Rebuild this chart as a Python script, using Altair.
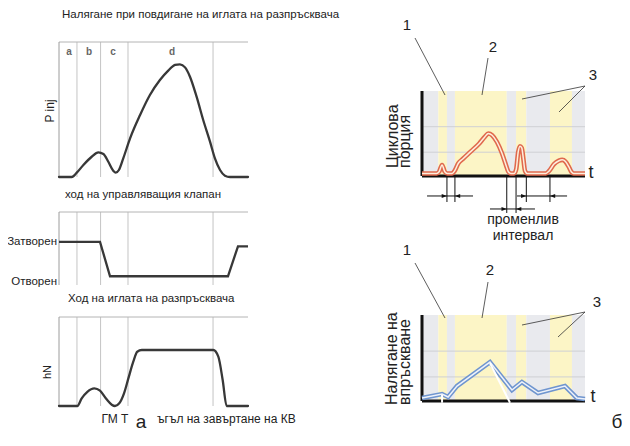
import altair as alt
import pandas as pd

# ---------------- data ----------------
# left column: common crank-angle axis, 0..100 across each panel
phase_bounds = [9.5, 22, 36.5, 81.5]
phase_names = ["a", "b", "c", "d"]
phase_name_pos = [5.3, 15.9, 28.6, 59.8]

pinj_angle = [0, 6.7, 9.4, 12.9, 17.3, 20.8, 23.5, 26.1, 28.7, 30, 31.7, 34, 37.6,
              42.9, 48.1, 53.4, 57.8, 61.4, 64, 66.7, 69.3, 72.8, 76.3, 79.9, 82.5,
              85.2, 87.8, 90.5, 100]
pinj_value = [0, 0, 3.2, 8.9, 15, 18.3, 17, 11.3, 4.7, 3.2, 5.2, 13.8, 28.6,
              45.9, 60.7, 71.8, 78.8, 83, 83.5, 81.2, 74.3, 59.5, 42.2, 26.2, 13.8,
              5.2, 1, 0, 0]

valve_angle = [0, 21.7, 27, 89.4, 94.7, 100]
valve_value = [59, 59, 12, 12, 53, 53]
valve_labels = ["Затворен", "Отворен"]
valve_label_level = [59, 4]

needle_angle = [0, 9.7, 12, 15, 18.7, 21.7, 25.2, 27.9, 29.6, 31.9, 34.4, 36.7, 39.3,
                41.4, 43.8, 81.6, 84.3, 86.6, 88.7, 100]
needle_value = [0, 0, 8.6, 16, 19.9, 17.2, 7.5, 1.5, 0, 3, 14.2, 31, 49.8,
                61, 62.9, 62.9, 55.4, 29.2, 0, 0]

# right column: time axis, 0..100 across each panel
stripe_start = [0, 10, 15.3, 20.2, 52, 57.7, 64, 78.5, 92]
stripe_end = [10, 15.3, 20.2, 52, 57.7, 64, 78.5, 92, 100]
stripe_kind = ["gap", "inj", "gap", "inj", "gap", "inj", "gap", "inj", "gap"]
grid_levels = [28, 58]

dose_time = [0, 9, 10.5, 12.3, 14, 15.5, 18.5, 20, 22.3, 25, 30, 35, 38.5, 40.7, 43,
             46, 49, 51.5, 53, 54.5, 56.5, 57.8, 59, 60.1, 61.2, 62.2, 63.2, 64.5,
             76, 78, 81, 84, 86, 88, 90, 91.6, 93, 100]
dose_value = [3, 3, 5, 13, 5, 3, 3, 6, 15, 20, 29, 38, 46, 50, 48,
              40, 27, 13, 5, 3, 3, 8, 28, 35, 33, 20, 6, 3,
              3, 6, 14, 18, 19, 17, 11, 5, 3, 3]

press_time = [0, 12.3, 16, 21.5, 41.7, 55.2, 61.3, 71.2, 87.7, 95, 100]
press_value = [3.5, 8.1, 4.7, 17.4, 45.3, 12.8, 22.1, 9.3, 17.4, 3.5, 2.3]
cut_t0 = [41.7, 12.3]
cut_t1 = [54, 12.3]
cut_v0 = [44, 7]
cut_v1 = [-2, -2]

dim_left = [15.3, 52, 64]
dim_right = [20.2, 57.7, 78.5]
dim_from = [3.1, 41.7, 58.3]
dim_to = [31.3, 69.3, 89]
dim_level = [-23.5, -38.8, -23.5]
dim_depth = [-30.6, -43.5, -30.6]

# ---------------- layout ----------------
M = 8  # page margin
W, H = 614, 425


def px(v):
    return v - M


BOX_A1 = ((59, 248), (177, 42))
BOX_A2 = ((59, 248), (285, 212))
BOX_A3 = ((59, 248), (406, 317))
BOX_B1 = ((422, 585), (176, 91))
BOX_B2 = ((422, 585), (401, 315))
FONT = "Liberation Sans"


def scales(box):
    (x0, x1), (yb, yt) = box
    sx = alt.Scale(domain=[0, 100], range=[px(x0), px(x1)], nice=False, zero=False)
    sy = alt.Scale(domain=[0, 100], range=[px(yb), px(yt)], nice=False, zero=False)
    return sx, sy


def segs(x, x2, y, y2):
    return pd.DataFrame({"x": x, "x2": x2, "y": y, "y2": y2})


def rules(df, sx, sy, **kw):
    return alt.Chart(df).mark_rule(**kw).encode(
        x=alt.X("x:Q", scale=sx, axis=None), x2="x2:Q",
        y=alt.Y("y:Q", scale=sy, axis=None), y2="y2:Q")


def curve(xs, ys, sx, sy, **kw):
    df = pd.DataFrame({"x": xs, "y": ys})
    return alt.Chart(df).mark_line(**kw).encode(
        x=alt.X("x:Q", scale=sx, axis=None), y=alt.Y("y:Q", scale=sy, axis=None))


def note(text, x, y, size=12, align="center", angle=0, color="#222", weight="normal",
         baseline="middle"):
    kw = dict(align=align, baseline=baseline, fontSize=size, color=color,
              font=FONT, fontWeight=weight)
    if angle:
        kw["angle"] = angle
    return alt.Chart(pd.DataFrame({"label": [text]})).mark_text(**kw).encode(
        x=alt.value(px(x)), y=alt.value(px(y)), text="label:N")


def leader(x0, y0, x1, y1):
    return alt.Chart(pd.DataFrame({"k": [0]})).mark_rule(color="#333", strokeWidth=0.8).encode(
        x=alt.value(px(x0)), y=alt.value(px(y0)), x2=alt.value(px(x1)), y2=alt.value(px(y1)))


def left_frame(sx, sy):
    n = len(phase_bounds)
    return [
        rules(segs(phase_bounds, phase_bounds, [0] * n, [100] * n), sx, sy,
              color="#c4c4c4", strokeWidth=1),
        rules(segs([0], [100], [100], [100]), sx, sy, color="#b4b4b4", strokeWidth=1),
        rules(segs([0], [0], [0], [100]), sx, sy, color="#9c9c9c", strokeWidth=1),
    ]


LINE = dict(color="#383838", strokeWidth=2.3, interpolate="monotone", strokeCap="round")

# panel A1
sx, sy = scales(BOX_A1)
letters = alt.Chart(pd.DataFrame({"x": phase_name_pos, "y": [92.6] * 4, "n": phase_names})).mark_text(
    fontSize=10, fontWeight="bold", color="#666", font=FONT).encode(
    x=alt.X("x:Q", scale=sx, axis=None), y=alt.Y("y:Q", scale=sy, axis=None), text="n:N")
panel_a1 = alt.layer(*left_frame(sx, sy), letters, curve(pinj_angle, pinj_value, sx, sy, **LINE))

# panel A2
sx, sy = scales(BOX_A2)
vlab = alt.Chart(pd.DataFrame({"x": [0, 0], "y": valve_label_level, "n": valve_labels})).mark_text(
    fontSize=11.5, color="#222", font=FONT, align="right", dx=-2).encode(
    x=alt.X("x:Q", scale=sx, axis=None), y=alt.Y("y:Q", scale=sy, axis=None), text="n:N")
panel_a2 = alt.layer(*left_frame(sx, sy), vlab,
                     curve(valve_angle, valve_value, sx, sy, color="#383838", strokeWidth=2.3))

# panel A3
sx, sy = scales(BOX_A3)
panel_a3 = alt.layer(*left_frame(sx, sy), curve(needle_angle, needle_value, sx, sy, **LINE))


def right_base(sx, sy):
    stripes = alt.Chart(pd.DataFrame({"s": stripe_start, "e": stripe_end, "k": stripe_kind,
                                      "lo": 0, "hi": 100})).mark_rect().encode(
        x=alt.X("s:Q", scale=sx, axis=None), x2="e:Q",
        y=alt.Y("lo:Q", scale=sy, axis=None), y2="hi:Q",
        color=alt.Color("k:N", scale=alt.Scale(domain=["gap", "inj"],
                                               range=["#e9eaee", "#fcf5c6"]), legend=None))
    g = len(grid_levels)
    grid = rules(segs([0] * g, [100] * g, grid_levels, grid_levels), sx, sy,
                 color="#cfd0d4", strokeWidth=1)
    axes = rules(segs([0, 0], [0, 100], [0, 0], [100, 0]), sx, sy, color="#111", strokeWidth=3)
    return [stripes, grid, axes]


# panel B1
sx, sy = scales(BOX_B1)
k = len(dim_left)
dim_v = rules(segs(dim_left + dim_right, dim_left + dim_right, [0] * (2 * k), dim_depth + dim_depth),
              sx, sy, color="#111", strokeWidth=1)
dim_h = rules(segs(dim_from, dim_to, dim_level, dim_level), sx, sy, color="#111", strokeWidth=1)
head_r = alt.Chart(pd.DataFrame({"x": dim_left, "y": dim_level})).mark_point(
    shape="M0,0L-1,-0.4L-1,0.4Z", filled=True, size=110, color="#111", opacity=1).encode(
    x=alt.X("x:Q", scale=sx, axis=None), y=alt.Y("y:Q", scale=sy, axis=None))
head_l = alt.Chart(pd.DataFrame({"x": dim_right, "y": dim_level})).mark_point(
    shape="M0,0L1,-0.4L1,0.4Z", filled=True, size=110, color="#111", opacity=1).encode(
    x=alt.X("x:Q", scale=sx, axis=None), y=alt.Y("y:Q", scale=sy, axis=None))
panel_b1 = alt.layer(
    *right_base(sx, sy), dim_v, dim_h, head_r, head_l,
    curve(dose_time, dose_value, sx, sy, color="#e0694d", strokeWidth=4.6, interpolate="monotone"),
    curve(dose_time, dose_value, sx, sy, color="#fdeedd", strokeWidth=1.5, interpolate="monotone"),
)

# panel B2
sx, sy = scales(BOX_B2)
panel_b2 = alt.layer(
    *right_base(sx, sy),
    curve(press_time, press_value, sx, sy, color="#6f95cf", strokeWidth=4.6),
    curve(press_time, press_value, sx, sy, color="#eef2fa", strokeWidth=1.5),
    rules(segs(cut_t0, cut_t1, cut_v0, cut_v1), sx, sy, color="white", strokeWidth=2),
)

notes = [
    note("Налягане при повдигане на иглата на разпръсквача", 62, 15, size=11.5, align="left"),
    note("ход на управляващия клапан", 65, 195, size=11.5, align="left"),
    note("Ход на иглата на разпръсквача", 68, 299, size=11.5, align="left"),
    note("P inj", 50, 111, size=12, angle=270),
    note("hN", 48, 372, size=11, angle=270),
    note("ГМ Т", 115, 419, size=12),
    note("ъгъл на завъртане на КВ", 157, 419, size=12, align="left"),
    note("а", 141, 428, size=19, baseline="alphabetic"),
    note("1", 407, 25, size=15), note("2", 493, 47, size=15), note("3", 593, 75, size=15),
    note("1", 407, 250, size=15), note("2", 490, 270, size=15), note("3", 597, 302, size=15),
    note("Циклова", 393, 168, size=16, angle=270, align="left"),
    note("порция", 405, 168, size=16, angle=270, align="left"),
    note("Налягане на", 392, 405, size=16, angle=270, align="left"),
    note("впръскване", 405, 405, size=16, angle=270, align="left"),
    note("променлив", 523, 220, size=14),
    note("интервал", 523, 236, size=14),
    note("t", 591, 173, size=18), note("t", 593, 397, size=18),
    note("б", 617, 428, size=19, baseline="alphabetic"),
    leader(415, 38, 445, 95), leader(488, 58, 482, 95),
    leader(585, 86, 522, 99), leader(585, 86, 559, 112),
    leader(415, 263, 445, 318), leader(488, 282, 482, 318),
    leader(585, 312, 522, 325), leader(585, 312, 558, 337),
]

chart = alt.layer(panel_a1, panel_a2, panel_a3, panel_b1, panel_b2, *notes).resolve_scale(
    x="independent", y="independent", color="shared"
).properties(
    width=W, height=H, padding=0, autosize=alt.AutoSizeParams(type="none"),
    background="white"
).configure_view(stroke=None)

chart.save("out.html", embed_options={"renderer": "svg", "actions": False})
